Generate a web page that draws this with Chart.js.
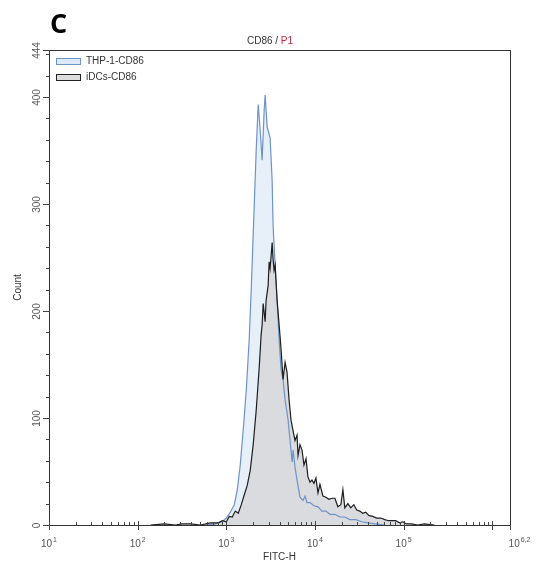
<!DOCTYPE html>
<html>
<head>
<meta charset="utf-8">
<script src="https://cdn.jsdelivr.net/npm/chart.js@4/dist/chart.umd.min.js"></script>
<style>
html,body{margin:0;padding:0;background:#fff;}
#wrap{position:relative;width:538px;height:568px;}
</style>
</head>
<body>
<div id="wrap"><canvas id="c"></canvas></div>
<script>
// THP-1-CD86 histogram (x = log10 FITC-H, y = count)
const thpLog = [2.764,2.876,2.955,3.0,3.045,3.09,3.124,3.157,3.191,3.225,3.258,3.281,3.303,3.337,3.36,3.382,3.404,3.427,3.438,3.461,3.494,3.517,3.528,3.551,3.573,3.596,3.618,3.64,3.663,3.697,3.719,3.742,3.753,3.775,3.798,3.831,3.865,3.888,3.91,3.944,3.989,4.034,4.079,4.124,4.169,4.225,4.281,4.337,4.393,4.461,4.528,4.596,4.674,4.787];
const thpCount = [0,1,3,6.5,12,19,33,56,89,126,173,220,271,350,393,369,341,388,402,372,362,322,279,243,210,173,145,136,117,98,79,59,70,54,42,26,23,27,21,21,18,17,13,13,10,10,7.5,7.5,5,5,3,2,1,0];
// iDCs-CD86 histogram
const idcLog = [2.146,2.3,2.427,2.5,2.596,2.708,2.82,2.91,2.955,3.0,3.034,3.067,3.101,3.135,3.169,3.202,3.236,3.27,3.303,3.337,3.371,3.393,3.404,3.416,3.438,3.449,3.472,3.483,3.494,3.506,3.517,3.528,3.539,3.551,3.562,3.573,3.596,3.618,3.64,3.663,3.685,3.708,3.73,3.753,3.775,3.798,3.809,3.831,3.854,3.876,3.899,3.921,3.944,3.966,3.989,4.011,4.034,4.056,4.09,4.124,4.157,4.191,4.225,4.258,4.292,4.315,4.337,4.371,4.404,4.438,4.472,4.506,4.539,4.573,4.607,4.652,4.697,4.742,4.787,4.831,4.865,4.91,4.955,4.989,5.034,5.09,5.157,5.236,5.348];
const idcCount = [0,1,0,1,1,0,2,2,4,3,8,7.5,13,11,19,28,37,51,75,107,147,178,187,207,190,210,224,246,240,252,264,248,238,243,226,210,187,164,136,152,143,117,98,88,79,84,65,75,70,56,62,45,40,42,39,44,30,38,27,26,24,25,25,17,19,33,16,20,16,19,14,13,11,12,9,8,6.5,6.5,5,4,4,4,2,3,1,1,0,1,0];
// axis ticks
const xMajorExp = [1,2,3,4,5];
const xEndLabel = ["10","6,2"];
const yMajorTicks = [0,100,200,300,400,444];
const yMinorStep = 20;

const toPts = (xs, ys) => xs.map((x, i) => ({x: x, y: ys[i]}));

const axisPlugin = {
  id: 'axisPlugin',
  afterDraw(chart) {
    const ctx = chart.ctx, a = chart.chartArea;
    const xs = chart.scales.x, ys = chart.scales.y;
    ctx.save();
    // frame
    ctx.strokeStyle = '#333';
    ctx.lineWidth = 1;
    ctx.strokeRect(Math.round(a.left) + 0.5, Math.round(a.top) + 0.5, Math.round(a.right - a.left), Math.round(a.bottom - a.top));
    ctx.strokeStyle = '#444';
    // y ticks
    for (let v = yMinorStep; v < 444; v += yMinorStep) {
      if (v % 100 === 0) continue;
      const y = Math.round(ys.getPixelForValue(v)) + 0.5;
      ctx.beginPath(); ctx.moveTo(a.left - 3, y); ctx.lineTo(a.left, y); ctx.stroke();
    }
    ctx.fillStyle = '#555';
    ctx.font = '10px "Liberation Sans", Arial, sans-serif';
    ctx.textAlign = 'center';
    ctx.textBaseline = 'middle';
    yMajorTicks.forEach(v => {
      const y = Math.round(ys.getPixelForValue(v)) + 0.5;
      ctx.beginPath(); ctx.moveTo(a.left - 6, y); ctx.lineTo(a.left + 1, y); ctx.stroke();
      ctx.save();
      ctx.translate(37, y);
      ctx.rotate(-Math.PI / 2);
      ctx.fillText(String(v), 0, 0);
      ctx.restore();
    });
    // x ticks
    for (let e = 1; e <= 6; e++) {
      for (let k = 2; k <= 9; k++) {
        const lv = e + Math.log10(k);
        if (lv > 6.2) break;
        const x = Math.round(xs.getPixelForValue(lv)) + 0.5;
        ctx.beginPath(); ctx.moveTo(x, a.bottom - 3); ctx.lineTo(x, a.bottom); ctx.stroke();
      }
    }
    const drawPow = (x, base, exp) => {
      ctx.font = '10px "Liberation Sans", Arial, sans-serif';
      const wb = ctx.measureText(base).width;
      ctx.font = '7px "Liberation Sans", Arial, sans-serif';
      const we = ctx.measureText(exp).width;
      const start = x - (wb + we + 1) / 2;
      ctx.textAlign = 'left';
      ctx.textBaseline = 'alphabetic';
      ctx.font = '10px "Liberation Sans", Arial, sans-serif';
      ctx.fillText(base, start, 547);
      ctx.font = '7px "Liberation Sans", Arial, sans-serif';
      ctx.fillText(exp, start + wb + 1, 542);
    };
    xMajorExp.concat([6]).forEach(e => {
      const x = Math.round(xs.getPixelForValue(e)) + 0.5;
      ctx.beginPath(); ctx.moveTo(x, a.bottom - 4); ctx.lineTo(x, a.bottom + 5); ctx.stroke();
    });
    xMajorExp.forEach(e => drawPow(xs.getPixelForValue(e), '10', String(e)));
    const xe = Math.round(xs.getPixelForValue(6.2)) + 0.5;
    ctx.beginPath(); ctx.moveTo(xe, a.bottom); ctx.lineTo(xe, a.bottom + 5); ctx.stroke();
    drawPow(xe + 9, xEndLabel[0], xEndLabel[1]);
    // axis titles
    ctx.fillStyle = '#333';
    ctx.font = '10px "Liberation Sans", Arial, sans-serif';
    ctx.textAlign = 'center';
    ctx.textBaseline = 'middle';
    ctx.fillText('FITC-H', (a.left + a.right) / 2, 557);
    ctx.save();
    ctx.translate(18, (a.top + a.bottom) / 2);
    ctx.rotate(-Math.PI / 2);
    ctx.fillText('Count', 0, 0);
    ctx.restore();
    // title
    ctx.font = '10px "Liberation Sans", Arial, sans-serif';
    const t1 = 'CD86 / ', t2 = 'P1';
    const w1 = ctx.measureText(t1).width, w2 = ctx.measureText(t2).width;
    const tx = 270 - (w1 + w2) / 2;
    ctx.textAlign = 'left';
    ctx.fillStyle = '#333';
    ctx.fillText(t1, tx, 41);
    ctx.fillStyle = '#c8283c';
    ctx.fillText(t2, tx + w1, 41);
    // panel letter
    ctx.fillStyle = '#000';
    ctx.font = 'bold 27px "Open Sans", Lato, sans-serif';
    ctx.textBaseline = 'alphabetic';
    ctx.fillText('C', 50, 33);
    // legend
    const leg = [
      {label: 'THP-1-CD86', fill: '#dde9f6', stroke: '#6e93c6', y: 58},
      {label: 'iDCs-CD86', fill: '#dcdcdc', stroke: '#222', y: 74}
    ];
    leg.forEach(l => {
      ctx.fillStyle = l.fill;
      ctx.fillRect(56, l.y, 24, 6);
      ctx.strokeStyle = l.stroke;
      ctx.lineWidth = 1;
      ctx.strokeRect(56.5, l.y + 0.5, 24, 6);
      ctx.fillStyle = '#333';
      ctx.font = '10px "Liberation Sans", Arial, sans-serif';
      ctx.textBaseline = 'middle';
      ctx.fillText(l.label, 86, l.y + 3.5);
    });
    ctx.restore();
  }
};

new Chart(document.getElementById('c'), {
  type: 'line',
  data: {
    datasets: [
      {
        label: 'iDCs-CD86',
        data: toPts(idcLog, idcCount),
        borderColor: '#1e1e1e',
        backgroundColor: '#d9dbdf',
        borderWidth: 1.2,
        fill: 'origin',
        pointRadius: 0,
        tension: 0
      },
      {
        label: 'THP-1-CD86',
        data: toPts(thpLog, thpCount),
        borderColor: '#6e93c6',
        backgroundColor: '#e7eff9',
        borderWidth: 1.2,
        fill: 'origin',
        pointRadius: 0,
        tension: 0
      }
    ]
  },
  options: {
    responsive: true,
    maintainAspectRatio: false,
    animation: false,
    layout: {padding: {left: 49, right: 28, top: 50, bottom: 43}},
    scales: {
      x: {type: 'linear', min: 1, max: 6.2, display: false},
      y: {type: 'linear', min: 0, max: 444, display: false}
    },
    plugins: {
      legend: {display: false},
      tooltip: {enabled: false},
      filler: {drawTime: 'beforeDatasetsDraw'}
    }
  },
  plugins: [axisPlugin]
});
</script>
</body>
</html>
